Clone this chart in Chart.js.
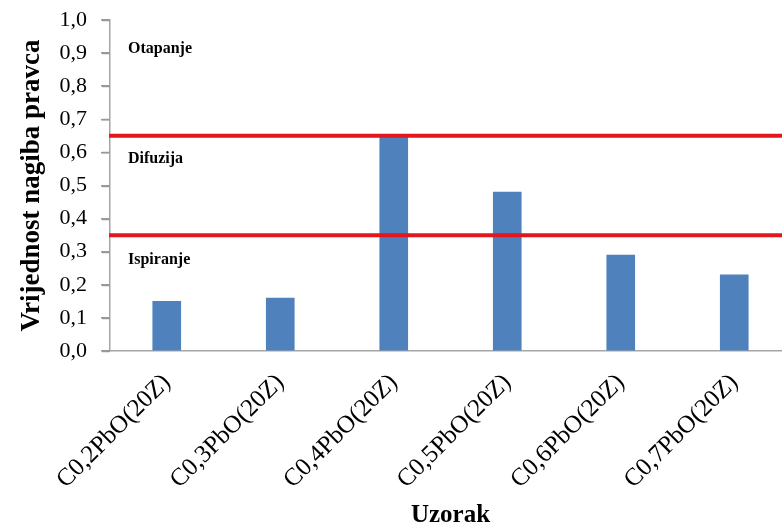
<!DOCTYPE html>
<html>
<head>
<meta charset="utf-8">
<script src="https://cdn.jsdelivr.net/npm/chart.js@4"></script>
<style>
  html, body { margin: 0; padding: 0; background: #fff; overflow: hidden; }
  #wrap { width: 800px; height: 531px; }
</style>
</head>
<body>
<div id="wrap"><canvas id="barChart"></canvas></div>
<script>
const samples = ['C0,2PbO(20Z)', 'C0,3PbO(20Z)', 'C0,4PbO(20Z)', 'C0,5PbO(20Z)', 'C0,6PbO(20Z)', 'C0,7PbO(20Z)'];
const slopes = [0.15, 0.16, 0.65, 0.48, 0.29, 0.23];
const limits = [0.65, 0.35];
const zoneNames = ['Otapanje', 'Difuzija', 'Ispiranje'];
const zoneAt = [0.913, 0.58, 0.275];

Chart.defaults.font.family = '"Liberation Serif", "Times New Roman", serif';
Chart.defaults.color = '#000';

const zonesPlugin = {
  id: 'zones',
  afterDatasetsDraw(chart) {
    const { ctx, scales: { y }, chartArea } = chart;
    ctx.save();
    // small tick marks left of the y axis
    ctx.strokeStyle = '#999999';
    ctx.lineWidth = 1.5;
    y.ticks.forEach((t) => {
      const py = Math.round(y.getPixelForValue(t.value)) + 0.5;
      ctx.beginPath();
      ctx.moveTo(chartArea.left - 8, py);
      ctx.lineTo(chartArea.left, py);
      ctx.stroke();
    });
    ctx.strokeStyle = '#e3161d';
    ctx.lineWidth = 4;
    limits.forEach((v) => {
      const py = y.getPixelForValue(v);
      ctx.beginPath();
      ctx.moveTo(chartArea.left - 1, py);
      ctx.lineTo(chart.width, py);
      ctx.stroke();
    });
    ctx.fillStyle = '#000';
    ctx.font = 'bold 16px "Liberation Serif", serif';
    ctx.textBaseline = 'middle';
    zoneNames.forEach((name, i) => {
      ctx.fillText(name, chartArea.left + 18, y.getPixelForValue(zoneAt[i]));
    });
    ctx.restore();
  }
};

new Chart(document.getElementById('barChart'), {
  type: 'bar',
  data: {
    labels: samples,
    datasets: [{
      data: slopes,
      backgroundColor: '#4f81bd',
      barThickness: 28
    }]
  },
  options: {
    responsive: true,
    maintainAspectRatio: false,
    animation: false,
    layout: { padding: { top: 20, right: 9, left: 0, bottom: 0 } },
    plugins: {
      legend: { display: false },
      tooltip: { enabled: false }
    },
    scales: {
      x: {
        grid: { display: false },
        border: { display: true, color: '#a6a6a6', width: 1.5 },
        ticks: {
          font: { size: 25 },
          maxRotation: 45,
          minRotation: 45,
          padding: 9
        },
        title: {
          display: true,
          text: 'Uzorak',
          font: { size: 25, weight: 'bold' },
          padding: { top: 0, bottom: 0 }
        },
        afterFit: (scale) => { scale.height = 180; }
      },
      y: {
        min: 0,
        max: 1,
        grid: { drawOnChartArea: false, drawTicks: true, tickLength: 9, color: '#999999', lineWidth: 1.5 },
        border: { display: true, color: '#a6a6a6', width: 1.5 },
        ticks: {
          stepSize: 0.1,
          font: { size: 22 },
          padding: 14,
          callback: (value) => value.toFixed(1).replace('.', ',')
        },
        title: {
          display: true,
          text: 'Vrijednost nagiba pravca',
          font: { size: 27, weight: 'bold' },
          padding: { top: 16, bottom: 0 }
        },
        afterFit: (scale) => {
          scale.width = 110;
          scale.paddingTop = 0;
          scale.paddingBottom = 0;
        }
      }
    }
  },
  plugins: [zonesPlugin]
});
</script>
</body>
</html>
